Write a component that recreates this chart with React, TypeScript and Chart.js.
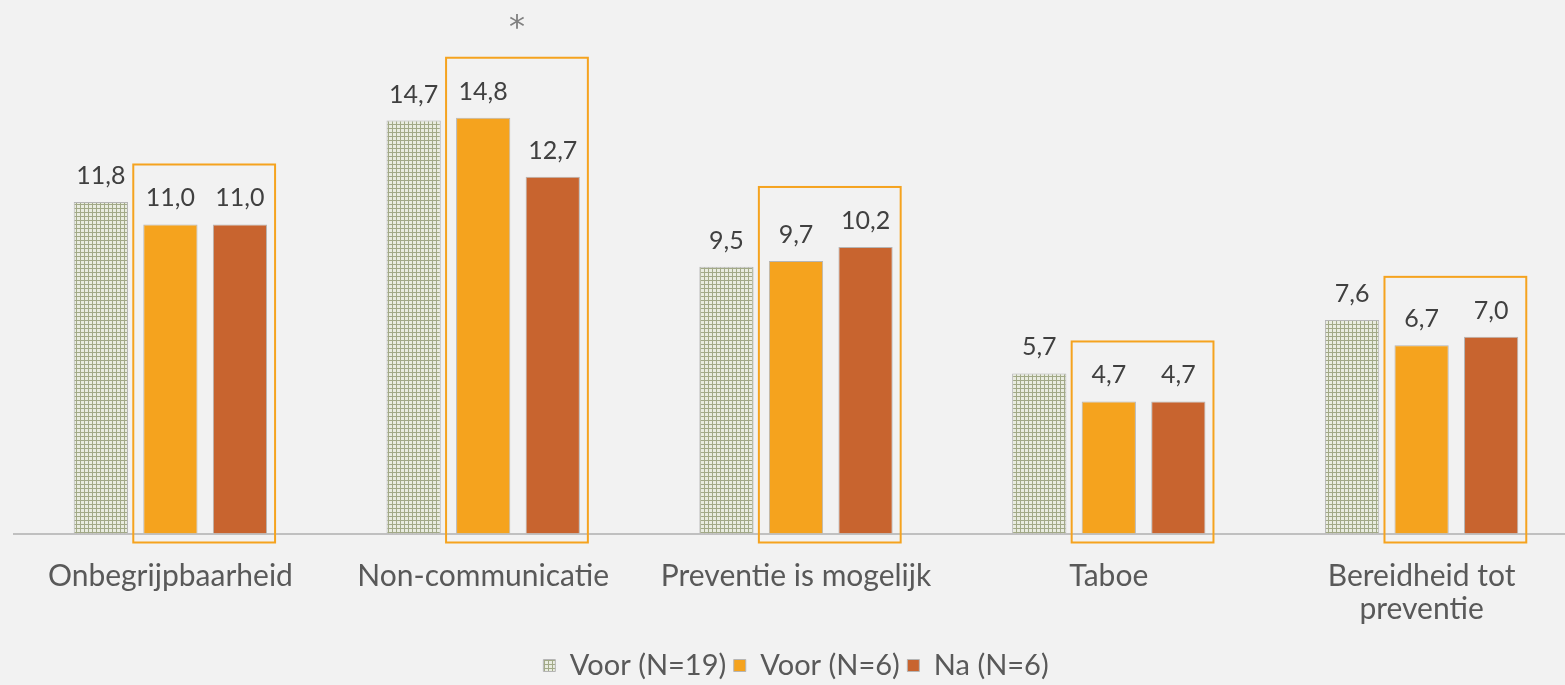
import React, { useEffect, useRef } from "react";
import { Chart, registerables } from "chart.js";

Chart.register(...registerables);

const categories: (string | string[])[] = [
  "Onbegrijpbaarheid",
  "Non-communicatie",
  "Preventie is mogelijk",
  "Taboe",
  ["Bereidheid tot", "preventie"],
];
const voorN19 = [11.8, 14.7, 9.5, 5.7, 7.6];
const voorN6 = [11.0, 14.8, 9.7, 4.7, 6.7];
const naN6 = [11.0, 12.7, 10.2, 4.7, 7.0];
const seriesNames = ["Voor (N=19)", "Voor (N=6)", "Na (N=6)"];
const significant = [false, true, false, false, false];

const FONT = "Lato, 'Open Sans', sans-serif";

function makePattern(): CanvasPattern | string {
  const c = document.createElement("canvas");
  c.width = 4;
  c.height = 4;
  const ctx = c.getContext("2d");
  if (!ctx) return "#c8ccb8";
  ctx.fillStyle = "#a2a987";
  ctx.fillRect(0, 0, 4, 4);
  ctx.fillStyle = "#e9ece0";
  ctx.fillRect(1, 1, 3, 3);
  const p = ctx.createPattern(c, "repeat");
  return p || "#c8ccb8";
}

const labelPlugin = {
  id: "valueLabels",
  afterDatasetsDraw(chart: any) {
    const ctx = chart.ctx;
    ctx.save();
    ctx.font = `25px ${FONT}`;
    ctx.fillStyle = "#404040";
    ctx.textAlign = "center";
    ctx.textBaseline = "alphabetic";
    chart.data.datasets.forEach((ds: any, di: number) => {
      const meta = chart.getDatasetMeta(di);
      meta.data.forEach((bar: any, i: number) => {
        const v = ds.data[i] as number;
        ctx.fillText(v.toFixed(1).replace(".", ","), bar.x, bar.y - 18);
      });
    });
    ctx.restore();
  },
};

const boxPlugin = {
  id: "groupBoxes",
  afterDatasetsDraw(chart: any) {
    const ctx = chart.ctx;
    const m1 = chart.getDatasetMeta(1);
    const m2 = chart.getDatasetMeta(2);
    const bottom = chart.chartArea.bottom + 9;
    ctx.save();
    ctx.strokeStyle = "#f5a31f";
    ctx.lineWidth = 2;
    m1.data.forEach((b1: any, i: number) => {
      const b2 = m2.data[i];
      const left = b1.x - b1.width / 2 - 10;
      const right = b2.x + b2.width / 2 + 8;
      const top = Math.min(b1.y, b2.y) - 60;
      ctx.strokeRect(left, top, right - left, bottom - top);
      if (significant[i]) {
        ctx.font = `32px 'DejaVu Sans', sans-serif`;
        ctx.fillStyle = "#808080";
        ctx.textAlign = "center";
        ctx.textBaseline = "alphabetic";
        ctx.fillText("*", (left + right) / 2, 37);
      }
    });
    ctx.restore();
  },
};

const bgPlugin = {
  id: "bg",
  beforeDraw(chart: any) {
    const ctx = chart.ctx;
    ctx.save();
    ctx.fillStyle = "#f2f2f2";
    ctx.fillRect(0, 0, chart.width, chart.height);
    ctx.restore();
  },
};

export default function App() {
  const ref = useRef<HTMLCanvasElement>(null);
  useEffect(() => {
    if (!ref.current) return;
    const pattern = makePattern();
    const chart = new Chart(ref.current, {
      type: "bar",
      data: {
        labels: categories,
        datasets: [
          {
            label: seriesNames[0],
            data: voorN19,
            backgroundColor: pattern as any,
            borderColor: "#b5b5b5",
            borderWidth: 1,
          },
          {
            label: seriesNames[1],
            data: voorN6,
            backgroundColor: "#f5a31e",
            borderColor: "#b5b5b5",
            borderWidth: 1,
          },
          {
            label: seriesNames[2],
            data: naN6,
            backgroundColor: "#c8642f",
            borderColor: "#b5b5b5",
            borderWidth: 1,
          },
        ],
      },
      options: {
        responsive: false,
        animation: false,
        datasets: {
          bar: { categoryPercentage: 0.667, barPercentage: 0.78 },
        },
        layout: { padding: { left: 14, right: 0, top: 11, bottom: -5 } },
        scales: {
          y: { display: false, min: 0, max: 18.6 },
          x: {
            border: { display: true, color: "#c0c0c0", width: 2 },
            grid: { display: false },
            ticks: {
              color: "#595959",
              font: { family: FONT, size: 30, lineHeight: 1.1 },
              padding: 18,
              maxRotation: 0,
              autoSkip: false,
            },
          },
        },
        plugins: {
          legend: {
            position: "bottom",
            labels: {
              color: "#595959",
              font: { family: FONT, size: 29 },
              boxWidth: 12,
              boxHeight: 12,
              padding: 7.5,
            },
          },
          tooltip: { enabled: false },
        },
      },
      plugins: [bgPlugin, boxPlugin, labelPlugin],
    });
    return () => chart.destroy();
  }, []);
  return (
    <div
      style={{
        position: "fixed",
        left: 0,
        top: 0,
        width: 1565,
        height: 685,
        overflow: "hidden",
        background: "#f2f2f2",
      }}
    >
      <canvas ref={ref} width={1578} height={685} style={{ display: "block" }} />
    </div>
  );
}
